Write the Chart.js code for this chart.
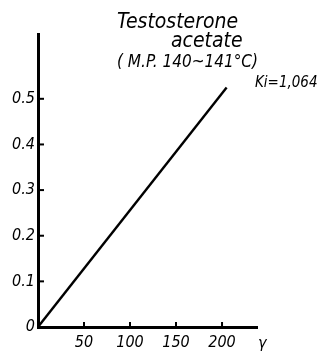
<!DOCTYPE html>
<html><head><meta charset="utf-8">
<script src="https://cdn.jsdelivr.net/npm/chart.js@4/dist/chart.umd.min.js"></script>
<style>html,body{margin:0;padding:0;background:#fff;}#w{width:320px;height:353px;}</style>
</head><body><div id="w"><canvas id="c"></canvas></div>
<script>
const concentration = [0, 205];
const absorbance = [0, 0.525];
const xTickValues = [50, 100, 150, 200];
const yTickValues = [0, 0.1, 0.2, 0.3, 0.4, 0.5];
const yTickLabels = ['0', '0.1', '0.2', '0.3', '0.4', '0.5'];
const titleLines = ['Testosterone', 'acetate', '( M.P. 140~141°C)'];
const kiLabel = 'Ki=1,064';
const xUnit = 'γ';

const FAM = '"DejaVu Sans Condensed", "DejaVu Sans", sans-serif';

const annot = {
  id: 'annot',
  afterDraw(chart) {
    const ctx = chart.ctx, x = chart.scales.x, y = chart.scales.y;
    ctx.save();
    ctx.strokeStyle = '#000'; ctx.lineWidth = 2;
    yTickValues.forEach(v => { if (v === 0) return; const py = y.getPixelForValue(v);
      ctx.beginPath(); ctx.moveTo(x.left, py); ctx.lineTo(x.left + 6, py); ctx.stroke(); });
    xTickValues.forEach(v => { const px = x.getPixelForValue(v);
      ctx.beginPath(); ctx.moveTo(px, y.bottom); ctx.lineTo(px, y.bottom - 5); ctx.stroke(); });
    ctx.fillStyle = '#000'; ctx.textBaseline = 'alphabetic'; ctx.textAlign = 'left';
    ctx.font = 'italic 21px ' + FAM;
    ctx.fillText(titleLines[0], 117, 28);
    ctx.fillText(titleLines[1], 171, 47);
    ctx.font = 'italic 17px ' + FAM;
    ctx.fillText(titleLines[2], 117, 67);
    ctx.font = 'italic 15px ' + FAM;
    ctx.fillText(kiLabel, 255, 87);
    ctx.font = 'italic 16px ' + FAM;
    ctx.fillText(xUnit, 258, 348);
    ctx.restore();
  }
};

new Chart(document.getElementById('c'), {
  type: 'line',
  data: { datasets: [{
    data: concentration.map((v, i) => ({ x: v, y: absorbance[i] })),
    borderColor: '#000', borderWidth: 2.4, pointRadius: 0, fill: false, tension: 0
  }]},
  options: {
    responsive: true, maintainAspectRatio: false, animation: false,
    layout: { padding: { top: 34, right: 63, left: 0, bottom: 0 } },
    plugins: { legend: { display: false }, tooltip: { enabled: false } },
    scales: {
      x: {
        type: 'linear', min: 0, max: 238,
        afterFit(s) { s.height = 26; },
        afterBuildTicks(s) { s.ticks = xTickValues.map(v => ({ value: v })); },
        grid: { display: false, drawTicks: false },
        border: { display: true, color: '#000', width: 3 },
        ticks: { color: '#000', font: { family: FAM, size: 16, style: 'italic' }, padding: 6, maxRotation: 0 }
      },
      y: {
        type: 'linear', min: 0, max: 0.642,
        afterFit(s) { s.width = 38; },
        afterBuildTicks(s) { s.ticks = yTickValues.map(v => ({ value: v })); },
        grid: { display: false, drawTicks: false },
        border: { display: true, color: '#000', width: 3 },
        ticks: { color: '#000', font: { family: FAM, size: 16, style: 'italic' }, padding: 3,
          callback: (v) => { const i = yTickValues.indexOf(v); return i >= 0 ? yTickLabels[i] : ''; } }
      }
    }
  },
  plugins: [annot]
});
</script></body></html>
